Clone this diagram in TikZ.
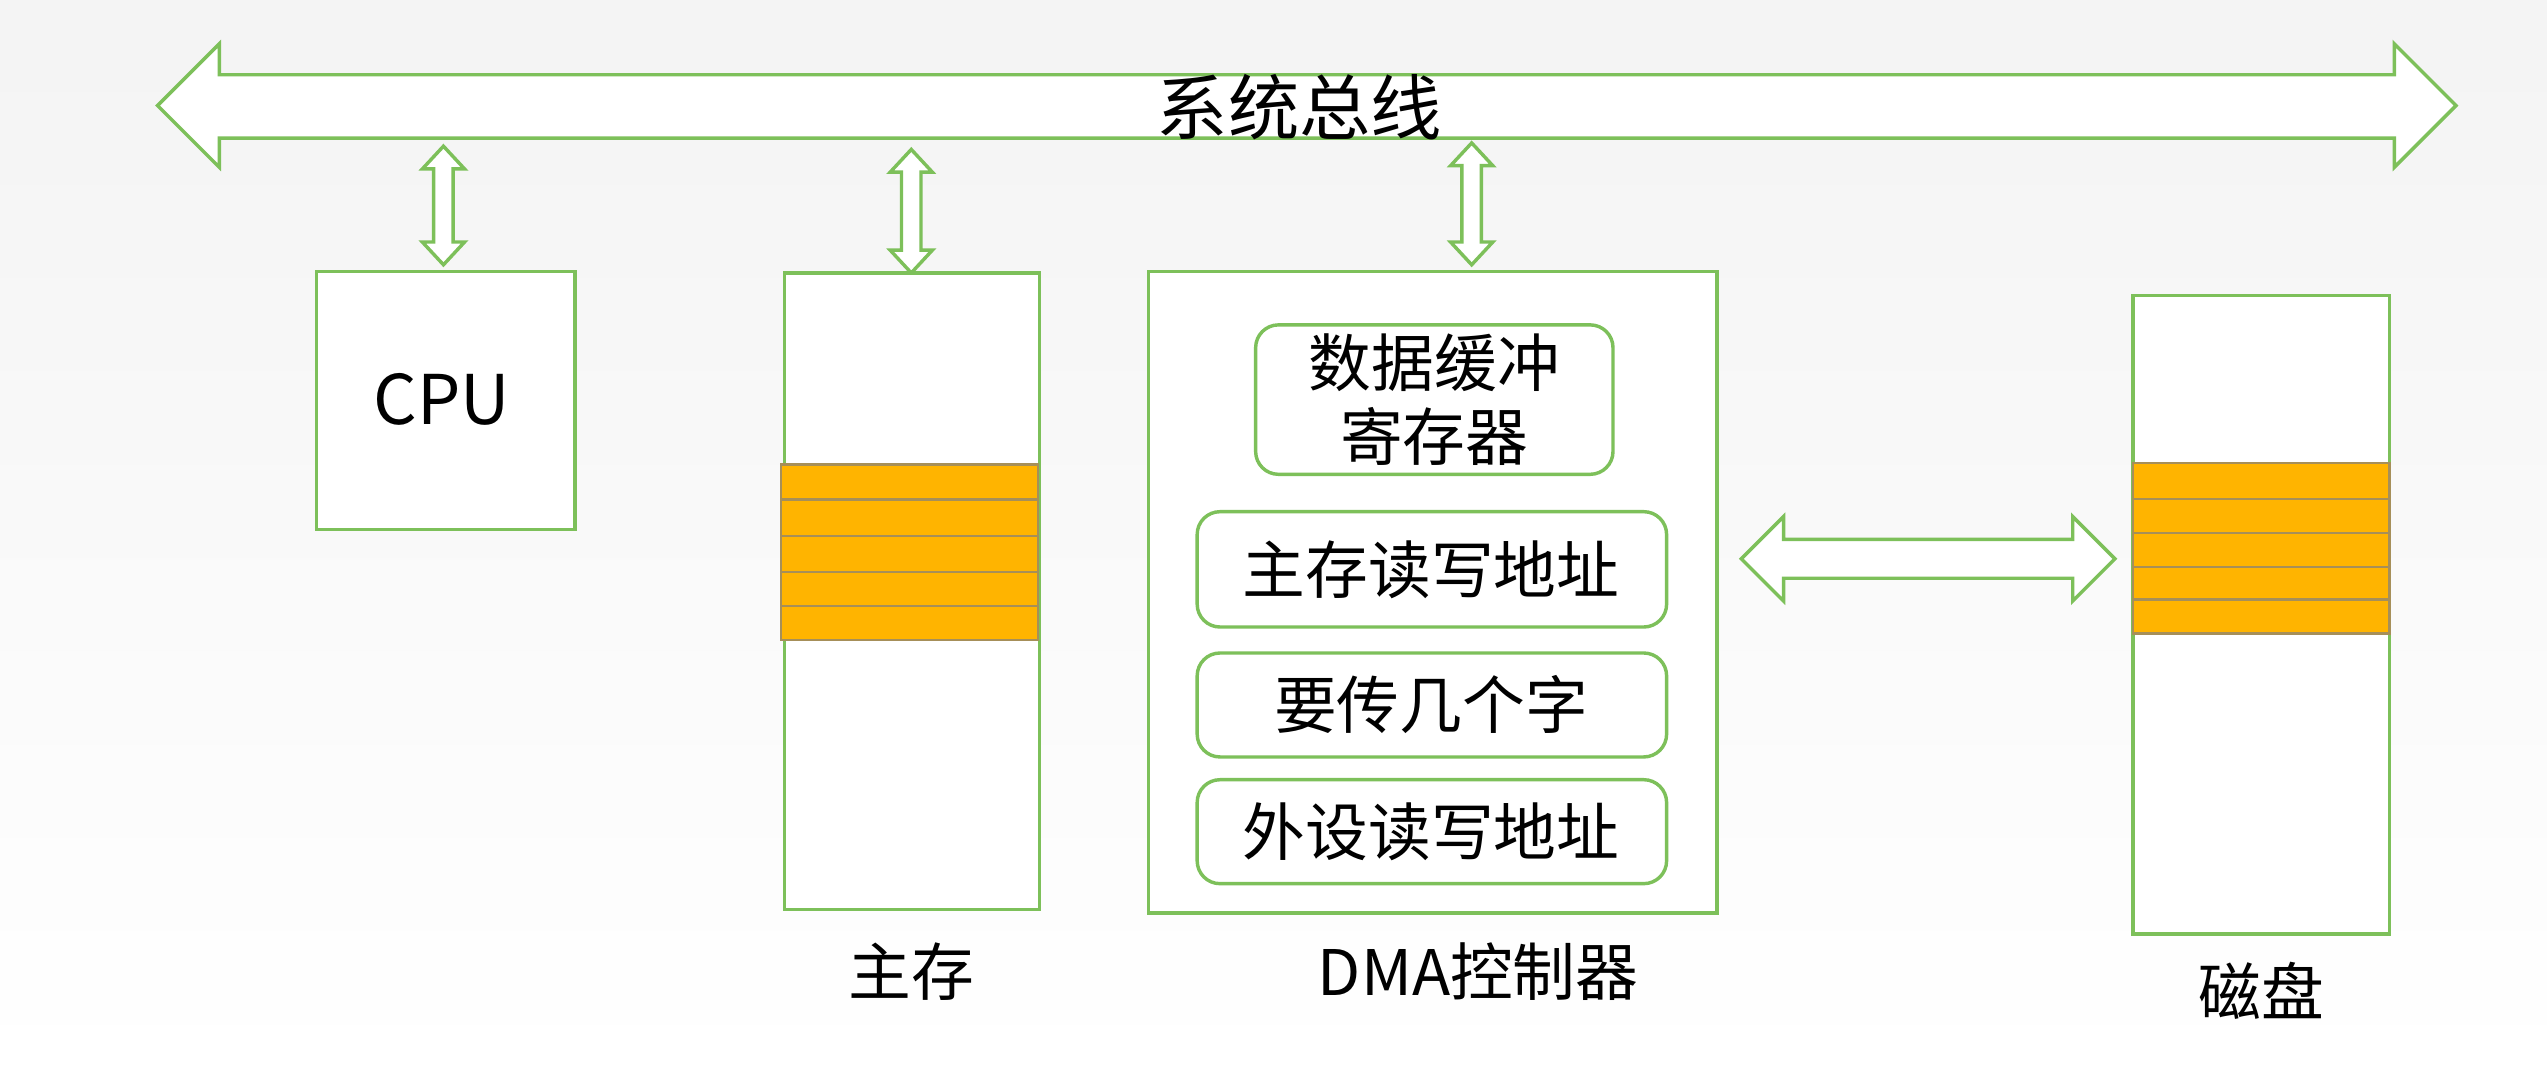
\documentclass[tikz,border=0pt]{standalone}
\usepackage{fontspec}
\setmainfont{Noto Sans CJK SC}
\definecolor{grn}{HTML}{7DC05A}
\definecolor{org}{HTML}{FFB400}
\begin{document}
\begin{tikzpicture}[x=0.02cm,y=-0.02cm,
  box/.style={draw=grn,line width=1.2pt,fill=white},
  rbox/.style={draw=grn,line width=1.2pt,fill=white,rounded corners=8pt},
  arr/.style={draw=grn,line width=1.2pt,fill=white},
  lbl/.style={font=\fontsize{22}{26}\selectfont},
  strip/.style={fill=org,draw=gray!70!org,line width=0.8pt}]
\useasboundingbox (0,0) rectangle (1568,659);
\shade[top color=gray!9,bottom color=white] (0,0) rectangle (1568,659);
% bus
\draw[arr] (97,65)--(135,27)--(135,46)--(1474,46)--(1474,27)--(1512,65)--(1474,103)--(1474,85)--(135,85)--(135,103)--cycle;
\node[font=\fontsize{25}{28}\selectfont] (bus) at (800,66) {系统总线};
% vertical arrows
\foreach \x/\a/\b in {273/90/163,561/92/168,906/88/163}{
  \draw[arr] (\x,\a)--(\x+13,\a+14)--(\x+6,\a+14)--(\x+6,\b-14)--(\x+13,\b-14)--(\x,\b)--(\x-13,\b-14)--(\x-6,\b-14)--(\x-6,\a+14)--(\x-13,\a+14)--cycle;}
% CPU
\draw[box] (195,167) rectangle (354,326);
\node[font=\fontsize{24}{28}\selectfont] (cpu) at (272,246) {CPU};
% memory
\draw[box] (483,168) rectangle (640,560);
\foreach \a/\b in {286/307,308/330,330/352,352/373,373/394}{\draw[strip] (481,\a) rectangle (639,\b);}
\node[lbl] (mem) at (561,598) {主存};
% DMA
\draw[box] (707,167) rectangle (1057,562);
\draw[rbox] (773,200) rectangle (993,292);
\node[lbl,align=center] (buf) at (883,246) {数据缓冲\\寄存器};
\draw[rbox] (737,315) rectangle (1026,386);
\node[lbl] (ma) at (881,351) {主存读写地址};
\draw[rbox] (737,402) rectangle (1026,466);
\node[lbl] (cnt) at (881,434) {要传几个字};
\draw[rbox] (737,480) rectangle (1026,544);
\node[lbl] (da) at (881,512) {外设读写地址};
\node[lbl] (dma) at (910,598) {DMA控制器};
% horizontal arrow
\draw[arr] (1072,344)--(1098,318)--(1098,332)--(1276,332)--(1276,318)--(1302,344)--(1276,370)--(1276,356)--(1098,356)--(1098,370)--cycle;
% disk
\draw[box] (1313,182) rectangle (1471,575);
\foreach \a/\b in {285/307,307/328,328/349,349/369,369/390}{\draw[strip] (1313,\a) rectangle (1471,\b);}
\node[lbl] (disk) at (1392,610) {磁盘};
\end{tikzpicture}
\end{document}
